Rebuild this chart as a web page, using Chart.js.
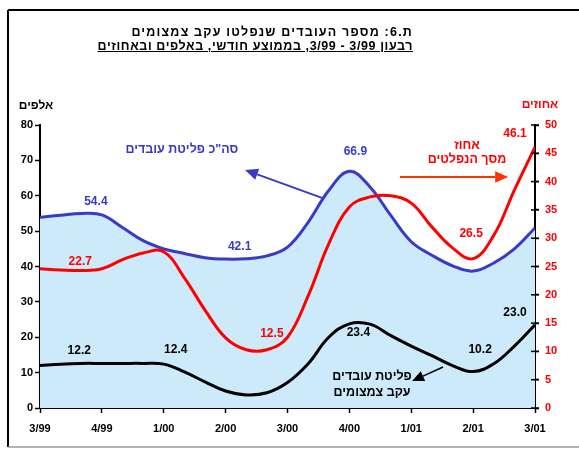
<!DOCTYPE html>
<html lang="he">
<head>
<meta charset="utf-8">
<script src="https://cdn.jsdelivr.net/npm/chart.js@4.4.1/dist/chart.umd.min.js"></script>
<style>
  html, body { margin: 0; padding: 0; background: #fff; }
  #wrap { position: relative; width: 579px; height: 451px; }
  canvas { position: absolute; left: 0; top: 0; }
  .title { position: absolute; direction: rtl; text-align: right; font-family: "Liberation Sans", Arial, sans-serif; font-weight: bold; font-size: 12.5px; color: #000; white-space: nowrap; }
</style>
</head>
<body>
<div id="wrap">
  <canvas id="c" width="579" height="451"></canvas>
  <div class="title" style="right:166px; top:25px; letter-spacing:1.2px;">ת.6: מספר העובדים שנפלטו עקב צמצומים</div>
  <div class="title" style="right:166px; top:39px; letter-spacing:0.6px; text-decoration: underline;">רבעון 3/99 - 3/99, בממוצע חודשי, באלפים ובאחוזים</div>
</div>
<script>
// ---- data (monthly readings, quarters 3/99 .. 3/01) ----
const quarterLabels = ['3/99','4/99','1/00','2/00','3/00','4/00','1/01','2/01','3/01'];
const monthIndex = [0,1,2,3,4,5,6,7,8,9,10,11,12,13,14,15,16,17,18,19,20,21,22,23,24];
// total dismissed workers (thousands, left axis)
const totalDismissed = [53.9,54.5,55.0,54.6,51.0,47.3,45.0,43.7,42.5,42.1,42.2,43.0,45.5,52.5,61.5,66.9,62.5,54.5,47.0,43.2,40.2,38.7,41.0,45.0,50.9];
// dismissed due to cutbacks (thousands, left axis)
const cutbackDismissed = [12.0,12.4,12.6,12.6,12.6,12.6,12.4,10.2,7.4,4.8,3.7,4.3,7.2,12.5,20.0,23.8,23.7,20.5,17.5,14.8,12.0,10.3,12.5,17.5,23.5];
// cutback share of total dismissed (percent, right axis)
const cutbackPercent = [24.6,24.4,24.3,24.6,26.2,27.4,27.6,23.0,17.3,12.4,10.3,10.3,12.5,19.8,29.0,35.5,37.3,37.5,36.2,32.0,28.3,26.4,30.5,38.5,46.1];
// value labels printed on the chart
const totalLabelIdx = [3, 9, 15];
const totalLabelText = ['54.4', '42.1', '66.9'];
const percentLabelIdx = [2, 11, 24, 21];
const percentLabelText = ['22.7', '12.5', '46.1', '26.5'];
const cutbackLabelIdx = [2, 6, 15, 21, 24];
const cutbackLabelText = ['12.2', '12.4', '23.4', '10.2', '23.0'];
const leftTicks = [0,10,20,30,40,50,60,70,80];
const rightTicks = [0,5,10,15,20,25,30,35,40,45,50];

const BLUE = '#3a3ac8', RED = '#ff0000', FILL = '#cdeafb';
const FONT = '"Liberation Sans", Arial, sans-serif';

function pts(arr){ return monthIndex.map((m,i)=>({x:m, y:arr[i]})); }

const overlay = {
  id: 'overlay',
  beforeDraw(chart){
    const ctx = chart.ctx;
    ctx.save();
    ctx.strokeStyle = '#000'; ctx.lineWidth = 2;
    ctx.beginPath(); ctx.moveTo(8, 10); ctx.lineTo(579, 10); ctx.moveTo(8, 10); ctx.lineTo(8, 447); ctx.stroke();
    ctx.strokeStyle = '#999'; ctx.lineWidth = 1.5;
    ctx.beginPath(); ctx.moveTo(8, 447); ctx.lineTo(579, 447); ctx.stroke();
    ctx.restore();
  },
  afterDraw(chart){
    const ctx = chart.ctx, x = chart.scales.x, yl = chart.scales.yL, yr = chart.scales.yR;
    ctx.save();
    ctx.textAlign = 'center'; ctx.textBaseline = 'middle';
    ctx.font = 'bold 12px ' + FONT;
    const put = (txt, px, py, color) => { ctx.fillStyle = color; ctx.fillText(txt, px, py); };
    // value labels with per-label offsets
    const bOff = [[-6,-13],[14,-12],[6,-20]];
    totalLabelIdx.forEach((idx,i)=>put(totalLabelText[i], x.getPixelForValue(monthIndex[idx]) + bOff[i][0], yl.getPixelForValue(totalDismissed[idx]) + bOff[i][1], BLUE));
    const rOff = [[-1,-9],[5,-16],[-20,-13],[-2,-25]];
    percentLabelIdx.forEach((idx,i)=>put(percentLabelText[i], x.getPixelForValue(monthIndex[idx]) + rOff[i][0], yr.getPixelForValue(cutbackPercent[idx]) + rOff[i][1], RED));
    const kOff = [[-2,-13],[12,-14],[9,9],[7,-22],[-20,-12]];
    cutbackLabelIdx.forEach((idx,i)=>put(cutbackLabelText[i], x.getPixelForValue(monthIndex[idx]) + kOff[i][0], yl.getPixelForValue(cutbackDismissed[idx]) + kOff[i][1], '#000'));

    // axis unit labels
    ctx.font = 'bold 12px ' + FONT;
    put('אלפים', 36, 106, '#000');
    put('אחוזים', 540, 105, RED);

    // annotations (anchored in data units)
    const P = (mx, v) => [x.getPixelForValue(mx), yl.getPixelForValue(v)];
    const arrow = (a, b, color, w, head) => {
      ctx.strokeStyle = color; ctx.fillStyle = color; ctx.lineWidth = w;
      const ang = Math.atan2(b[1]-a[1], b[0]-a[0]);
      const bx = b[0] - head*Math.cos(ang), by = b[1] - head*Math.sin(ang);
      ctx.beginPath(); ctx.moveTo(a[0], a[1]); ctx.lineTo(bx, by); ctx.stroke();
      ctx.beginPath(); ctx.moveTo(b[0], b[1]);
      ctx.lineTo(bx + head*0.45*Math.sin(ang), by - head*0.45*Math.cos(ang));
      ctx.lineTo(bx - head*0.45*Math.sin(ang), by + head*0.45*Math.cos(ang));
      ctx.closePath(); ctx.fill();
    };
    ctx.font = 'bold 12.5px ' + FONT;
    let p = P(6.88, 73.2); put('סה"כ פליטת עובדים', p[0], p[1], BLUE);
    arrow(P(13.67, 59.4), P(9.94, 67.3), BLUE, 2, 13);
    ctx.font = 'bold 12.5px ' + FONT;
    p = P(20.7, 74.3); put('אחוז', p[0], p[1], RED);
    p = P(20.7, 70.1); put('מסך הנפלטים', p[0], p[1], RED);
    arrow(P(17.45, 65.3), P(22.7, 65.3), '#ff3300', 2, 13);
    p = P(16.1, 9.0); put('פליטת עובדים', p[0], p[1], '#000');
    p = P(16.1, 4.5); put('עקב צמצומים', p[0], p[1], '#000');
    arrow(P(19.54, 11.6), P(18.04, 7.6), '#000', 1.5, 12);

    // right-axis ticks crossing the axis
    ctx.strokeStyle = '#000'; ctx.lineWidth = 1.5;
    rightTicks.forEach(t => { const py = yr.getPixelForValue(t); ctx.beginPath(); ctx.moveTo(yr.left - 4, py); ctx.lineTo(yr.left + 4, py); ctx.stroke(); });
    ctx.restore();
  }
};

new Chart(document.getElementById('c'), {
  type: 'line',
  data: {
    datasets: [
      { label: 'אחוז מסך הנפלטים', data: pts(cutbackPercent), yAxisID: 'yR', borderColor: RED, borderWidth: 3, pointRadius: 0, tension: 0.4, fill: false },
      { label: 'פליטת עובדים עקב צמצומים', data: pts(cutbackDismissed), yAxisID: 'yL', borderColor: '#000', borderWidth: 3, pointRadius: 0, tension: 0.4, fill: false },
      { label: 'סה"כ פליטת עובדים', data: pts(totalDismissed), yAxisID: 'yL', borderColor: BLUE, borderWidth: 3, pointRadius: 0, tension: 0.4, fill: 'origin', backgroundColor: FILL }
    ]
  },
  options: {
    responsive: false, animation: false, events: [],
    layout: { padding: { top: 125, left: 0, right: 0, bottom: 0 } },
    plugins: { legend: { display: false }, tooltip: { enabled: false }, filler: { drawTime: 'beforeDatasetsDraw' } },
    scales: {
      x: {
        type: 'linear', min: 0, max: 24,
        afterBuildTicks: s => { s.ticks = quarterLabels.map((q,i)=>({value: i*3})); },
        ticks: { callback: (v) => quarterLabels[Math.round(v/3)], color: '#000', font: { family: FONT, weight: 'bold', size: 11 }, padding: 9, maxRotation: 0, autoSkip: false },
        grid: { drawOnChartArea: false, color: '#000', tickLength: 5, tickWidth: 1.5 },
        border: { color: '#000', width: 2 },
        afterFit: s => { s.height = 43; }
      },
      yL: {
        position: 'left', min: 0, max: 80,
        afterBuildTicks: s => { s.ticks = leftTicks.map(v=>({value:v})); },
        ticks: { color: '#000', font: { family: FONT, weight: 'bold', size: 11 }, padding: 2 },
        grid: { drawOnChartArea: false, color: '#000', tickLength: 5, tickWidth: 1.5 },
        border: { color: '#000', width: 2 },
        afterFit: s => { s.width = 40; }
      },
      yR: {
        position: 'right', min: 0, max: 50,
        afterBuildTicks: s => { s.ticks = rightTicks.map(v=>({value:v})); },
        ticks: { color: RED, font: { family: FONT, weight: 'bold', size: 11 }, padding: 6 },
        grid: { drawOnChartArea: false, color: '#000', tickLength: 4, tickWidth: 1.5 },
        border: { color: '#000', width: 2 },
        afterFit: s => { s.width = 44; }
      }
    }
  },
  plugins: [overlay]
});
</script>
</body>
</html>
